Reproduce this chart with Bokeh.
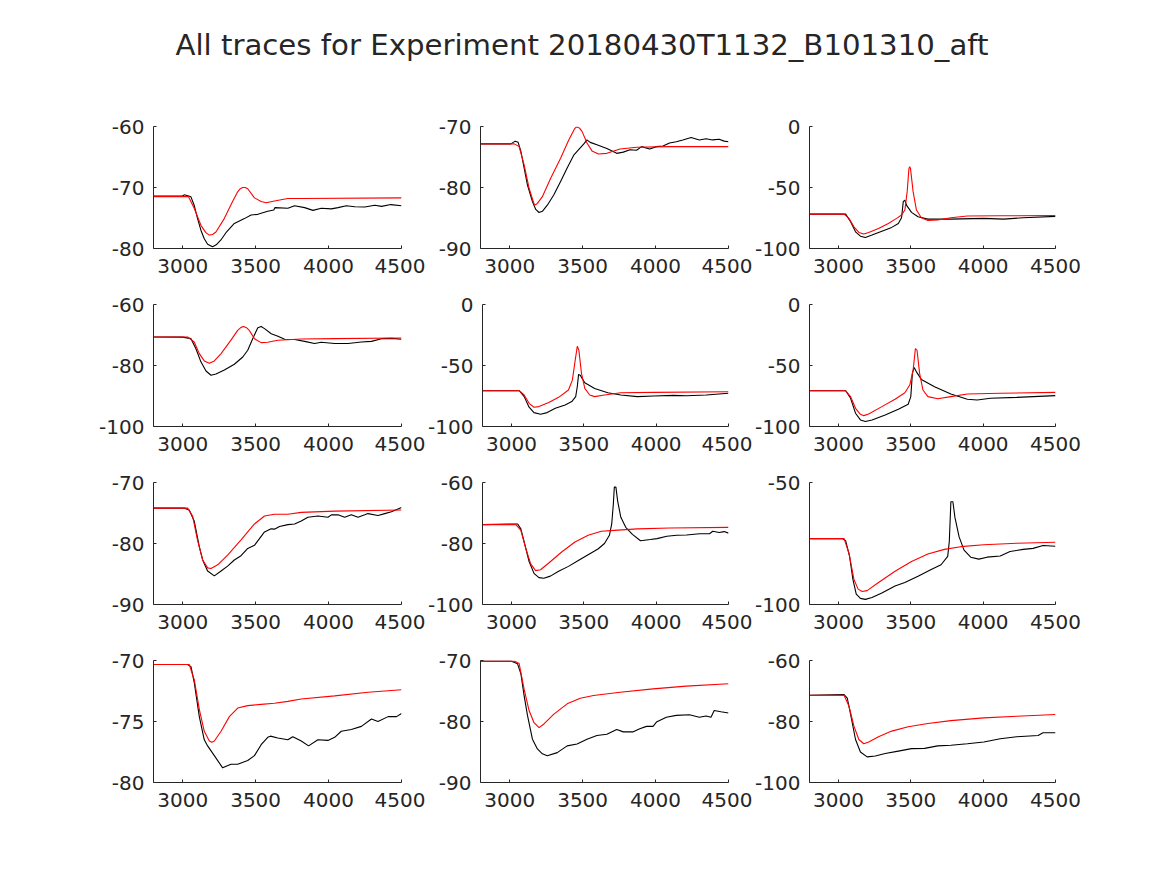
from bokeh.plotting import figure
from bokeh.layouts import column, row
from bokeh.models import FixedTicker, Range1d, Label
from bokeh.embed import file_html
from bokeh.resources import INLINE

TITLE = "All traces for Experiment 20180430T1132_B101310_aft"
X_RANGE = (2800, 4500)
X_TICKS = [3000, 3500, 4000, 4500]

# ---- panel 1 (row 1, col 1)
p1_y_range = (-80, -60)
p1_y_ticks = [-80, -70, -60]
p1_black_t = [2800, 3000, 3010, 3030, 3056, 3080, 3102, 3125, 3148, 3171, 3205, 3230, 3262, 3300, 3354, 3423, 3469, 3515, 3583, 3625, 3632, 3721, 3767, 3836, 3893, 3950, 4019, 4065, 4122, 4180, 4248, 4317, 4363, 4427, 4500]
p1_black_v = [-71.4, -71.4, -71.2, -71.3, -71.5, -73.0, -75.1, -77.0, -78.4, -79.3, -79.7, -79.4, -78.6, -77.3, -75.9, -75.1, -74.5, -74.4, -73.9, -73.7, -73.3, -73.4, -73.0, -73.3, -73.75, -73.4, -73.5, -73.3, -73.0, -73.15, -73.2, -72.9, -73.1, -72.8, -73.0]
p1_red_t = [2800, 3040, 3079, 3125, 3159, 3182, 3205, 3228, 3285, 3342, 3377, 3395, 3411, 3428, 3446, 3492, 3538, 3572, 3629, 3721, 3813, 4500]
p1_red_v = [-71.5, -71.5, -73.4, -76.2, -77.4, -77.8, -77.7, -77.3, -75.1, -72.3, -70.7, -70.2, -70.0, -70.0, -70.2, -71.7, -72.3, -72.5, -72.2, -71.8, -71.8, -71.7]

# ---- panel 2 (row 1, col 2)
p2_y_range = (-90, -70)
p2_y_ticks = [-90, -80, -70]
p2_black_t = [2800, 3008, 3038, 3058, 3077, 3099, 3122, 3156, 3179, 3201, 3224, 3258, 3303, 3349, 3394, 3439, 3473, 3507, 3530, 3552, 3598, 3666, 3734, 3779, 3824, 3870, 3904, 3960, 4006, 4051, 4096, 4142, 4187, 4244, 4300, 4346, 4391, 4436, 4470, 4500]
p2_black_v = [-72.85, -72.85, -72.4, -72.6, -74.1, -76.8, -79.6, -82.3, -83.6, -84.1, -83.9, -82.9, -81.2, -79.0, -76.8, -74.7, -73.8, -72.9, -72.2, -72.6, -73.0, -73.6, -74.4, -74.2, -73.8, -73.9, -73.3, -73.7, -73.3, -73.2, -72.7, -72.5, -72.2, -71.8, -72.2, -72.0, -72.2, -72.1, -72.4, -72.5]
p2_red_t = [2800, 3031, 3065, 3099, 3133, 3167, 3178, 3190, 3224, 3281, 3349, 3405, 3444, 3456, 3466, 3480, 3496, 3530, 3564, 3609, 3666, 3757, 3870, 4096, 4500]
p2_red_v = [-72.85, -72.85, -73.3, -76.3, -80.1, -82.7, -82.85, -82.6, -81.5, -78.5, -75.2, -72.2, -70.4, -70.1, -70.1, -70.3, -70.8, -72.7, -74.0, -74.5, -74.4, -73.7, -73.4, -73.3, -73.3]

# ---- panel 3 (row 1, col 3)
p3_y_range = (-100, 0)
p3_y_ticks = [-100, -50, 0]
p3_black_t = [2800, 3050, 3084, 3118, 3152, 3186, 3232, 3300, 3368, 3414, 3436, 3448, 3459, 3470, 3505, 3550, 3618, 3777, 4005, 4141, 4277, 4500]
p3_black_v = [-71.8, -71.8, -78.1, -86.3, -89.9, -91.0, -89.0, -85.8, -82.7, -79.5, -74.8, -61.6, -60.3, -64.4, -70.4, -74.0, -75.9, -75.9, -75.3, -75.9, -74.8, -73.7]
p3_red_t = [2800, 3039, 3073, 3107, 3141, 3175, 3209, 3277, 3345, 3402, 3436, 3459, 3475, 3487, 3492, 3498, 3516, 3539, 3573, 3618, 3686, 3777, 3891, 4118, 4500]
p3_red_v = [-71.8, -71.8, -75.3, -82.2, -86.8, -88.2, -86.8, -83.6, -79.5, -75.3, -72.6, -68.5, -53.4, -34.5, -32.9, -34.5, -53.4, -68.5, -74.8, -77.0, -76.7, -74.8, -73.4, -73.2, -72.9]

# ---- panel 4 (row 2, col 1)
p4_y_range = (-100, -60)
p4_y_ticks = [-100, -80, -60]
p4_black_t = [2800, 2999, 3057, 3091, 3125, 3160, 3194, 3228, 3286, 3354, 3412, 3446, 3480, 3515, 3538, 3561, 3607, 3653, 3699, 3767, 3836, 3904, 3950, 4042, 4133, 4225, 4294, 4363, 4432, 4500]
p4_black_v = [-70.65, -70.7, -71.2, -74.5, -78.8, -81.8, -83.2, -82.8, -81.5, -79.6, -77.2, -75.0, -71.2, -67.6, -67.2, -67.9, -69.6, -70.4, -71.4, -71.5, -72.1, -72.8, -72.4, -72.8, -72.8, -72.3, -72.1, -71.2, -71.1, -71.4]
p4_red_t = [2800, 3034, 3079, 3114, 3148, 3183, 3217, 3263, 3331, 3377, 3400, 3418, 3437, 3457, 3492, 3538, 3583, 3653, 3813, 4042, 4500]
p4_red_v = [-70.65, -70.65, -72.3, -76.1, -78.5, -79.3, -78.5, -76.1, -71.7, -68.5, -67.5, -67.2, -67.6, -68.5, -71.2, -72.5, -72.4, -71.7, -71.3, -71.2, -71.0]

# ---- panel 5 (row 2, col 2)
p5_y_range = (-100, 0)
p5_y_ticks = [-100, -50, 0]
p5_black_t = [2800, 3054, 3088, 3122, 3156, 3201, 3247, 3303, 3371, 3417, 3444, 3455, 3464, 3475, 3507, 3575, 3666, 3756, 3870, 3983, 4119, 4210, 4346, 4500]
p5_black_v = [-70.7, -70.7, -75.5, -84.2, -88.6, -89.9, -88.6, -85.1, -82.3, -79.6, -75.5, -67.4, -57.3, -57.9, -64.1, -68.8, -72.3, -74.2, -75.5, -75.0, -74.5, -74.8, -74.2, -72.8]
p5_red_t = [2800, 3054, 3088, 3122, 3156, 3190, 3258, 3326, 3394, 3421, 3439, 3455, 3466, 3484, 3507, 3541, 3575, 3643, 3756, 3983, 4500]
p5_red_v = [-70.7, -70.7, -74.2, -81.0, -84.2, -83.7, -80.4, -76.1, -70.1, -62.0, -47.0, -34.2, -37.5, -56.5, -68.8, -74.2, -75.5, -74.2, -72.3, -72.0, -71.5]

# ---- panel 6 (row 2, col 3)
p6_y_range = (-100, 0)
p6_y_ticks = [-100, -50, 0]
p6_black_t = [2800, 3050, 3084, 3118, 3152, 3186, 3232, 3323, 3414, 3482, 3500, 3511, 3523, 3539, 3573, 3664, 3777, 3891, 3959, 4050, 4232, 4500]
p6_black_v = [-70.7, -70.7, -76.9, -89.1, -94.6, -95.9, -94.6, -90.5, -85.9, -81.8, -75.5, -56.5, -51.6, -55.2, -61.4, -67.4, -73.4, -77.7, -78.3, -76.9, -76.1, -74.7]
p6_red_t = [2800, 3050, 3084, 3118, 3152, 3175, 3209, 3300, 3391, 3459, 3493, 3516, 3532, 3543, 3561, 3584, 3618, 3686, 3777, 3891, 4118, 4500]
p6_red_v = [-70.7, -70.7, -75.5, -85.1, -90.0, -91.1, -89.7, -83.7, -77.7, -72.3, -66.0, -53.8, -36.1, -37.5, -56.5, -70.1, -75.5, -77.2, -75.5, -73.4, -72.8, -72.0]

# ---- panel 7 (row 3, col 1)
p7_y_range = (-90, -70)
p7_y_ticks = [-90, -80, -70]
p7_black_t = [2800, 3011, 3045, 3079, 3114, 3137, 3171, 3217, 3263, 3308, 3354, 3400, 3446, 3492, 3561, 3606, 3629, 3664, 3721, 3767, 3813, 3858, 3927, 3996, 4019, 4065, 4110, 4156, 4202, 4248, 4270, 4339, 4385, 4431, 4500]
p7_black_v = [-74.2, -74.2, -74.5, -76.3, -80.5, -82.7, -84.5, -85.3, -84.5, -83.7, -82.7, -82.0, -80.8, -80.3, -78.1, -77.6, -77.65, -77.2, -76.9, -76.8, -76.3, -75.7, -75.5, -75.7, -75.3, -75.3, -75.7, -75.3, -75.7, -75.3, -75.1, -75.4, -75.1, -74.8, -74.1]
p7_red_t = [2800, 3034, 3068, 3102, 3137, 3171, 3194, 3240, 3308, 3400, 3492, 3561, 3629, 3721, 3813, 4042, 4500]
p7_red_v = [-74.2, -74.2, -75.5, -79.5, -82.7, -84.0, -84.1, -83.5, -81.9, -79.4, -76.8, -75.5, -75.2, -75.2, -74.9, -74.7, -74.5]

# ---- panel 8 (row 3, col 2)
p8_y_range = (-100, -60)
p8_y_ticks = [-100, -80, -60]
p8_black_t = [2800, 2997, 3043, 3065, 3088, 3122, 3156, 3190, 3224, 3269, 3326, 3394, 3462, 3530, 3598, 3643, 3677, 3693, 3704, 3711, 3722, 3734, 3756, 3790, 3836, 3892, 3960, 4006, 4074, 4142, 4210, 4300, 4369, 4391, 4436, 4470, 4500]
p8_black_v = [-73.8, -73.6, -73.6, -75.2, -79.5, -85.9, -89.8, -91.2, -91.4, -90.7, -89.1, -87.5, -85.6, -83.7, -81.8, -80.0, -77.3, -73.6, -67.2, -61.5, -61.5, -66.1, -71.4, -74.7, -77.0, -79.1, -78.7, -78.4, -77.6, -77.3, -77.2, -76.8, -76.8, -76.0, -76.4, -76.1, -76.6]
p8_red_t = [2800, 3031, 3065, 3099, 3133, 3167, 3201, 3258, 3349, 3439, 3530, 3621, 3711, 3870, 4096, 4500]
p8_red_v = [-73.8, -73.8, -75.7, -81.6, -86.7, -88.9, -88.6, -86.4, -82.7, -79.5, -77.3, -76.0, -75.7, -75.2, -74.9, -74.7]

# ---- panel 9 (row 3, col 3)
p9_y_range = (-100, -50)
p9_y_ticks = [-100, -50]
p9_black_t = [2800, 3027, 3050, 3077, 3100, 3123, 3152, 3186, 3232, 3300, 3391, 3459, 3550, 3641, 3709, 3755, 3766, 3777, 3791, 3805, 3834, 3868, 3914, 3970, 4027, 4118, 4186, 4277, 4345, 4414, 4500]
p9_black_v = [-73.0, -73.0, -73.9, -80.3, -89.7, -95.7, -97.5, -97.9, -97.1, -95.3, -92.4, -91.0, -88.4, -85.7, -83.7, -80.3, -74.3, -57.9, -57.9, -64.3, -72.3, -77.7, -80.6, -81.4, -80.6, -80.1, -78.3, -77.4, -77.0, -75.8, -76.1]
p9_red_t = [2800, 3039, 3073, 3107, 3136, 3164, 3198, 3277, 3391, 3505, 3618, 3732, 3845, 4005, 4232, 4500]
p9_red_v = [-73.0, -73.0, -79.0, -89.7, -93.7, -94.7, -94.3, -91.0, -86.4, -82.4, -79.3, -77.4, -76.3, -75.5, -74.9, -74.5]

# ---- panel 10 (row 4, col 1)
p10_y_range = (-80, -70)
p10_y_ticks = [-80, -75, -70]
p10_black_t = [2800, 3034, 3057, 3080, 3114, 3148, 3171, 3217, 3274, 3331, 3377, 3446, 3492, 3538, 3583, 3602, 3652, 3721, 3755, 3813, 3863, 3927, 3996, 4042, 4087, 4156, 4225, 4294, 4339, 4408, 4466, 4500]
p10_black_v = [-70.33, -70.33, -70.5, -71.85, -74.6, -76.5, -77.0, -77.8, -78.8, -78.5, -78.5, -78.2, -77.8, -76.9, -76.3, -76.2, -76.35, -76.5, -76.25, -76.6, -77.0, -76.5, -76.55, -76.3, -75.8, -75.65, -75.4, -74.8, -75.0, -74.6, -74.6, -74.35]
p10_red_t = [2800, 3045, 3080, 3114, 3148, 3183, 3200, 3217, 3263, 3320, 3377, 3446, 3538, 3629, 3721, 3813, 4042, 4271, 4500]
p10_red_v = [-70.33, -70.33, -71.6, -74.0, -75.8, -76.6, -76.7, -76.6, -75.8, -74.6, -73.9, -73.7, -73.6, -73.5, -73.35, -73.15, -72.9, -72.6, -72.4]

# ---- panel 11 (row 4, col 2)
p11_y_range = (-90, -70)
p11_y_ticks = [-90, -80, -70]
p11_black_t = [2800, 3008, 3054, 3077, 3099, 3122, 3156, 3190, 3224, 3258, 3326, 3394, 3462, 3530, 3598, 3666, 3734, 3779, 3847, 3892, 3938, 3983, 4006, 4074, 4142, 4232, 4300, 4346, 4380, 4402, 4448, 4500]
p11_black_v = [-70.1, -70.1, -70.55, -72.2, -75.75, -79.0, -82.9, -84.5, -85.3, -85.6, -85.1, -84.0, -83.7, -82.9, -82.3, -82.1, -81.3, -81.7, -81.7, -81.2, -80.8, -80.8, -80.1, -79.3, -79.0, -78.9, -79.3, -79.1, -79.3, -78.2, -78.4, -78.6]
p11_red_t = [2800, 3031, 3065, 3099, 3133, 3167, 3201, 3235, 3303, 3394, 3484, 3575, 3757, 3983, 4210, 4500]
p11_red_v = [-70.1, -70.1, -70.5, -74.7, -78.2, -80.2, -81.0, -80.4, -78.8, -77.1, -76.2, -75.75, -75.2, -74.65, -74.2, -73.8]

# ---- panel 12 (row 4, col 3)
p12_y_range = (-100, -60)
p12_y_ticks = [-100, -80, -60]
p12_black_t = [2800, 3039, 3061, 3084, 3118, 3152, 3198, 3255, 3323, 3414, 3505, 3595, 3686, 3777, 3891, 4005, 4118, 4232, 4380, 4414, 4500]
p12_black_v = [-71.4, -71.2, -72.3, -77.7, -85.9, -90.0, -91.6, -91.3, -90.5, -89.7, -88.9, -88.8, -88.0, -87.8, -87.3, -86.7, -85.65, -85.0, -84.6, -83.7, -83.7]
p12_red_t = [2800, 3039, 3073, 3107, 3141, 3175, 3209, 3277, 3368, 3482, 3618, 3777, 4005, 4232, 4500]
p12_red_v = [-71.4, -71.4, -75.0, -81.5, -85.9, -87.3, -86.7, -85.0, -83.15, -81.7, -80.65, -79.7, -78.8, -78.3, -77.7]

PANELS = [
    (p1_black_t, p1_black_v, p1_red_t, p1_red_v, p1_y_range, p1_y_ticks),
    (p2_black_t, p2_black_v, p2_red_t, p2_red_v, p2_y_range, p2_y_ticks),
    (p3_black_t, p3_black_v, p3_red_t, p3_red_v, p3_y_range, p3_y_ticks),
    (p4_black_t, p4_black_v, p4_red_t, p4_red_v, p4_y_range, p4_y_ticks),
    (p5_black_t, p5_black_v, p5_red_t, p5_red_v, p5_y_range, p5_y_ticks),
    (p6_black_t, p6_black_v, p6_red_t, p6_red_v, p6_y_range, p6_y_ticks),
    (p7_black_t, p7_black_v, p7_red_t, p7_red_v, p7_y_range, p7_y_ticks),
    (p8_black_t, p8_black_v, p8_red_t, p8_red_v, p8_y_range, p8_y_ticks),
    (p9_black_t, p9_black_v, p9_red_t, p9_red_v, p9_y_range, p9_y_ticks),
    (p10_black_t, p10_black_v, p10_red_t, p10_red_v, p10_y_range, p10_y_ticks),
    (p11_black_t, p11_black_v, p11_red_t, p11_red_v, p11_y_range, p11_y_ticks),
    (p12_black_t, p12_black_v, p12_red_t, p12_red_v, p12_y_range, p12_y_ticks),
]

INK = "#262626"
FONT = "DejaVu Sans"
FRAME_W, FRAME_H = 248, 122
BORDER_L, BORDER_R, BORDER_T, BORDER_B = 55, 24, 20, 36
FIRST_COL_EXTRA = 98
LAST_COL_RIGHT = 45
TITLE_H = 106


def make_panel(bt, bv, rt, rv, yr, yt, col):
    left = BORDER_L + (FIRST_COL_EXTRA if col == 0 else 0)
    right = LAST_COL_RIGHT if col == 2 else BORDER_R
    p = figure(width=left + FRAME_W + right, height=BORDER_T + FRAME_H + BORDER_B,
               x_range=Range1d(*X_RANGE), y_range=Range1d(*yr),
               min_border_left=left, min_border_right=right,
               min_border_top=BORDER_T, min_border_bottom=BORDER_B,
               output_backend="svg", toolbar_location=None, tools="")
    p.line(bt, bv, line_color="#000000", line_width=1.1)
    p.line(rt, rv, line_color="#ff0000", line_width=1.1)
    p.xaxis.ticker = FixedTicker(ticks=X_TICKS)
    p.yaxis.ticker = FixedTicker(ticks=yt)
    p.xaxis.major_label_overrides = {t: str(t) for t in X_TICKS}
    p.yaxis.major_label_overrides = {t: str(t) for t in yt}
    for ax in (p.xaxis[0], p.yaxis[0]):
        ax.axis_line_color = INK
        ax.axis_line_width = 1
        ax.major_tick_line_color = INK
        ax.major_tick_in = 3
        ax.major_tick_out = 0
        ax.minor_tick_line_color = None
        ax.major_label_text_font = FONT
        ax.major_label_text_font_size = "20px"
        ax.major_label_text_color = INK
    p.xaxis.major_label_standoff = 10
    p.yaxis.major_label_standoff = 9
    p.grid.visible = False
    p.outline_line_color = None
    p.background_fill_color = "white"
    p.border_fill_color = "white"
    return p


figs = [make_panel(*PANELS[i], i % 3) for i in range(12)]

title_fig = figure(width=1160, height=TITLE_H, x_range=Range1d(0, 1), y_range=Range1d(0, 1),
                   min_border=0, x_axis_location=None, y_axis_location=None,
                   output_backend="svg", toolbar_location=None, tools="")
title_fig.grid.visible = False
title_fig.outline_line_color = None
title_fig.add_layout(Label(x=581.5, y=TITLE_H - 44, x_units="screen", y_units="screen", text=TITLE,
                           text_align="center", text_baseline="middle",
                           text_font=FONT, text_font_size="29.2px", text_color=INK))

layout = column(title_fig,
                row(*figs[0:3]), row(*figs[3:6]), row(*figs[6:9]), row(*figs[9:12]))

open("out.html", "w").write(file_html(layout, INLINE))
